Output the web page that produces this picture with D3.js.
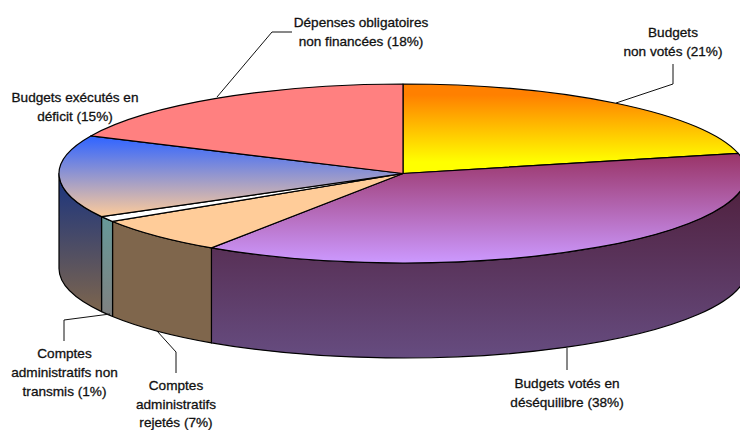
<!DOCTYPE html>
<html><head><meta charset="utf-8">
<script src="https://cdn.jsdelivr.net/npm/d3@7"></script>
<style>html,body{margin:0;padding:0;background:#fff}svg{display:block}
text{font-family:"Liberation Sans Narrow","Liberation Sans",sans-serif;font-size:13.6px;font-weight:400;fill:#111;stroke:#111;stroke-width:0.3px;text-anchor:middle}</style>
</head><body><svg id="c" width="740" height="430"></svg>
<script>
const categories=["Budgets non votés","Budgets votés en déséquilibre","Comptes administratifs rejetés","Comptes administratifs non transmis","Budgets exécutés en déficit","Dépenses obligatoires non financées"];
const values=[21.4,38,6.6,1.0,14.9,18.1];
const labelLines=[["Budgets","non votés (21%)"],["Budgets votés en","déséquilibre (38%)"],["Comptes","administratifs","rejetés (7%)"],["Comptes","administratifs non","transmis (1%)"],["Budgets exécutés en","déficit (15%)"],["Dépenses obligatoires","non financées (18%)"]];
const topColors=[["#ff8000","#ffff00"],["#993366","#cc99ff"],["#ffcc99","#ffcc99"],["#ffffff","#ffffff"],["#3366ff","#ffcc99"],["#ff8080","#ff8080"]];
const sideColors=[["#803f00","#808000"],["#4c1933","#664c80"],["#7f664c","#7f664c"],["#669999","#808080"],["#19337f","#7f664c"],["#804040","#804040"]];
const labelPos=[[673,37],[567,388],[176,390],[64.5,358],[75,102],[361,27]];
const leaders=[[[616,103],[673,84],[673,64]],[[567,348],[567,370]],[[157,331],[176,352],[176,373]],[[110,314],[64,320],[64,341]],null,[[217,97],[272,32],[292,32]]];

const cx=403,cy=173.5,rx=344,ry=89.5,depth=95;
const X=d3.scaleLinear([-1,1],[cx-rx,cx+rx]),Y=d3.scaleLinear([-1,1],[cy-ry,cy+ry]);
const pie=d3.pie().sort(null).value(d=>d)(values);
const pt=a=>[X(Math.sin(a)),Y(-Math.cos(a))];
const svg=d3.select("#c"),defs=svg.append("defs");
function grad(id,c,y1,y2){const g=defs.append("linearGradient").attr("id",id).attr("gradientUnits","userSpaceOnUse").attr("x1",0).attr("x2",0).attr("y1",y1).attr("y2",y2);
 g.append("stop").attr("offset",0).attr("stop-color",c[0]);g.append("stop").attr("offset",1).attr("stop-color",c[1]);}
const arcTo=(a0,a1,dy)=>{const [x,y]=pt(a1);return `A${rx},${ry} 0 ${Math.abs(a1-a0)>Math.PI?1:0} ${a1>a0?1:0} ${x},${y+dy}`};
const gradRange=[[95,162],[153,263],[173,263],[173,222],[138,217],[84,173]];
const sideRange=[[150,260],[155,358],[220,340],[216,318],[175,315],[84,260]];
const HALF=Math.PI/2,TH=Math.PI*1.5;
pie.forEach((d,i)=>{
 const a0=Math.max(d.startAngle,HALF),a1=Math.min(d.endAngle,TH);
 if(a1<=a0)return;
 grad("s"+i,sideColors[i],sideRange[i][0],sideRange[i][1]);
 const p0=pt(a0),p1=pt(a1);
 svg.append("path").attr("d",`M${p0[0]},${p0[1]}${arcTo(a0,a1,0)}L${p1[0]},${p1[1]+depth}${arcTo(a1,a0,depth)}Z`)
  .attr("fill",`url(#s${i})`).attr("stroke","#000").attr("stroke-width",1.2).attr("stroke-linejoin","round");
});
pie.forEach((d,i)=>{
 grad("t"+i,topColors[i],gradRange[i][0],gradRange[i][1]);
 const p0=pt(d.startAngle);
 svg.append("path").attr("d",`M${cx},${cy}L${p0[0]},${p0[1]}${arcTo(d.startAngle,d.endAngle,0)}Z`)
  .attr("fill",`url(#t${i})`).attr("stroke","#000").attr("stroke-width",1.2).attr("stroke-linejoin","round");
});
const ln=d3.line();
leaders.forEach(l=>{if(l)svg.append("path").attr("d",ln(l)).attr("fill","none").attr("stroke","#111").attr("stroke-width",1)});
labelLines.forEach((t,i)=>{
 const g=svg.append("text").attr("x",labelPos[i][0]).attr("y",labelPos[i][1]);
 t.forEach((s,j)=>g.append("tspan").attr("x",labelPos[i][0]).attr("dy",j?(i===2?18.5:19):0).text(s));
});
</script></body></html>
